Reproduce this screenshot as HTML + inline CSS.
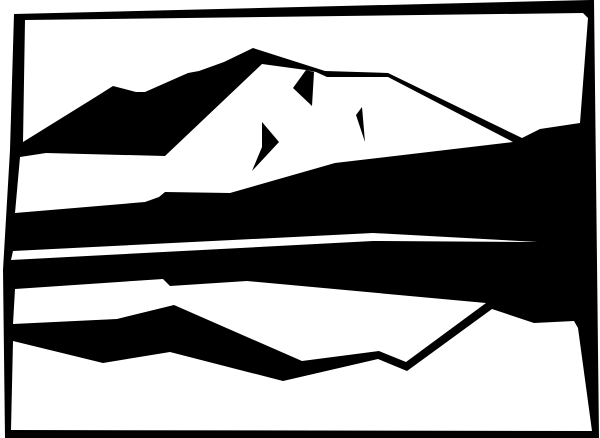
<!DOCTYPE html>
<html><head><style>html,body{margin:0;padding:0;background:#fff;}svg{display:block;}</style></head>
<body>
<svg width="600" height="438" viewBox="0 0 600 438" xmlns="http://www.w3.org/2000/svg">
<polygon fill="#000" points="14,14 590,0 594,0 599,438 5,438 3,270 10,150"/>
<polygon fill="#fff" points="25,20 583,13 588,18 580,123 540,129 522,138 388,73 325,71 253,48 224,62 199,71 188,73 145,92 136,92 113,86 94,98 23,142"/>
<polygon fill="#fff" points="20,157 46,153 165,156 262,64 306,70 316,72 327,77 388,77 513,142 335,163 230,193 165,192 159,197 145,202 15,213"/>
<polygon fill="#000" points="306,70 293,88 312,106 314,72"/>
<polygon fill="#000" points="262,122 279,142 252,171 262,147"/>
<polygon fill="#000" points="362,107 356,115 365,142"/>
<polygon fill="#fff" points="13,251 373,233 538,242 373,241 11,260"/>
<polygon fill="#fff" points="15,289 163,279 170,286 247,281 486,303 406,362 379,351 302,361 174,305 117,319 13,324"/>
<polygon fill="#fff" points="13,341 103,363 170,352 283,381 378,359 407,371 492,309 534,323 574,321 578,328 592,431 11,430"/>
</svg>
</body></html>
